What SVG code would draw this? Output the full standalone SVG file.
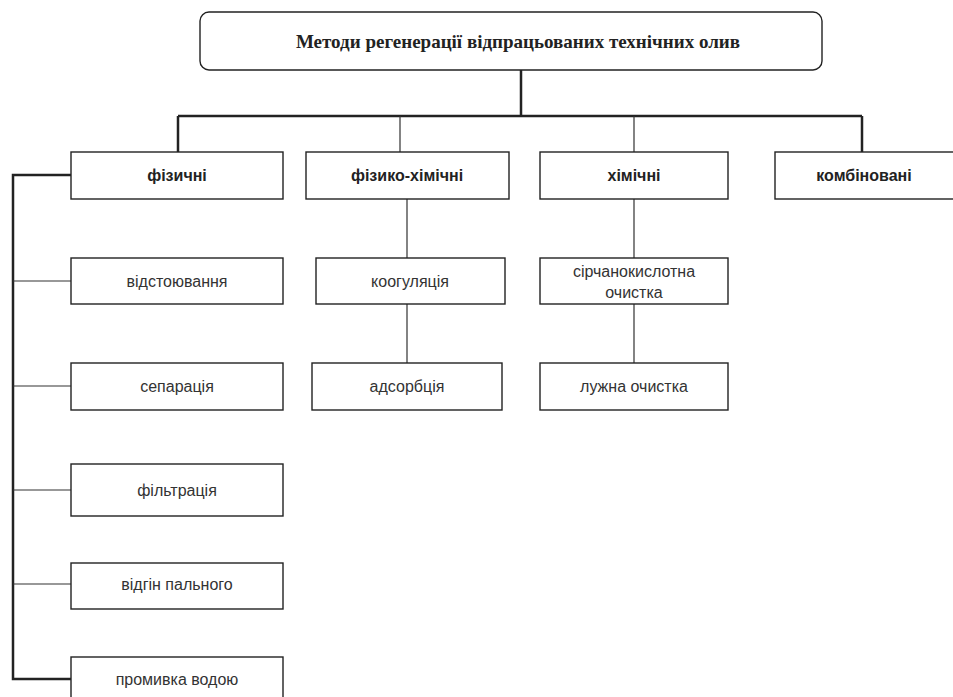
<svg xmlns="http://www.w3.org/2000/svg" width="953" height="697" viewBox="0 0 953 697">
<style>
.box{fill:#fff;stroke:#222;stroke-width:1.4}
.t{font-family:"Liberation Sans",Arial,sans-serif;font-size:16px;fill:#333;text-anchor:middle}
.b{font-weight:bold;fill:#222}
.title{font-family:"Liberation Serif","Times New Roman",serif;font-size:19px;font-weight:bold;fill:#222;text-anchor:middle}
.thick{stroke:#222;stroke-width:2.5;fill:none}
.thin{stroke:#333;stroke-width:1.2;fill:none}
</style>
<rect width="953" height="697" fill="#fff"/>
<g id="connectors">
<path class="thick" d="M521 70V116M178 116H862M178 116V152M862 116V152"/>
<path class="thin" d="M400 116V152M634 116V152"/>
<path class="thick" d="M71 175H13V679H71"/>
<path class="thin" d="M13 281H71M13 386H71M13 490H71M13 584H71"/>
<path class="thin" d="M407 199V258M407 304V363M634 199V258M634 304V363"/>
</g>
<g id="root"><rect class="box" x="200" y="12" width="622" height="58" rx="9"/><text class="title" x="518" y="48">Методи регенерації відпрацьованих технічних олив</text></g>
<g id="fizychni"><rect class="box" x="71" y="152" width="212" height="47"/><text class="t b" x="177" y="181">фізичні</text></g>
<g id="fizyko-khimichni"><rect class="box" x="306" y="152" width="203" height="47"/><text class="t b" x="407" y="181">фізико-хімічні</text></g>
<g id="khimichni"><rect class="box" x="540" y="152" width="188" height="47"/><text class="t b" x="634" y="181">хімічні</text></g>
<g id="kombinovani"><rect class="box" x="775" y="152" width="185" height="47"/><text class="t b" x="864" y="181">комбіновані</text></g>
<g id="vidstoyuvannya"><rect class="box" x="71" y="258" width="212" height="46"/><text class="t" x="177" y="287">відстоювання</text></g>
<g id="separatsiya"><rect class="box" x="71" y="363" width="212" height="47"/><text class="t" x="177" y="392">сепарація</text></g>
<g id="filtratsiya"><rect class="box" x="71" y="464" width="212" height="52"/><text class="t" x="177" y="496">фільтрація</text></g>
<g id="vidgin"><rect class="box" x="71" y="563" width="212" height="46"/><text class="t" x="177" y="590">відгін пального</text></g>
<g id="promyvka"><rect class="box" x="71" y="657" width="212" height="50"/><text class="t" x="177" y="685">промивка водою</text></g>
<g id="koogulyatsiya"><rect class="box" x="316" y="258" width="189" height="46"/><text class="t" x="410" y="287">коогуляція</text></g>
<g id="adsorbtsiya"><rect class="box" x="312" y="363" width="190" height="47"/><text class="t" x="407" y="392">адсорбція</text></g>
<g id="sirchanokyslotna"><rect class="box" x="540" y="258" width="188" height="46"/><text class="t" x="634" y="277">сірчанокислотна</text><text class="t" x="634" y="298">очистка</text></g>
<g id="luzhna"><rect class="box" x="540" y="363" width="188" height="47"/><text class="t" x="634" y="392">лужна очистка</text></g>
</svg>
